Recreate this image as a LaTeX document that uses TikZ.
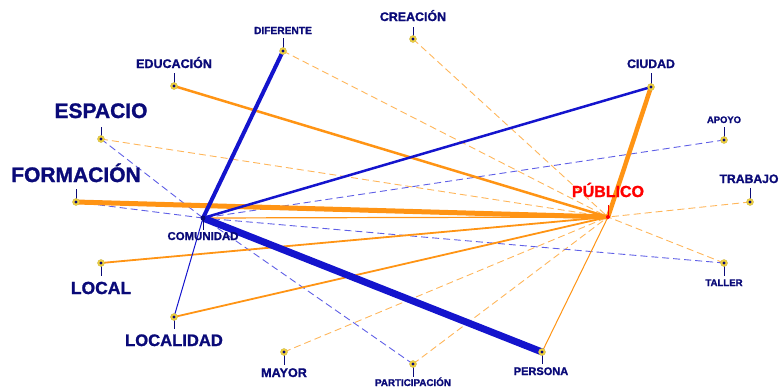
\documentclass[tikz,border=0pt]{standalone}
\usepackage{fontspec}
\setmainfont{Liberation Sans}[BoldFeatures={FakeBold=1.3}]
\newcommand\fsz[1]{\fontsize{#1}{#1}\selectfont\bfseries}
\definecolor{navy}{RGB}{10,10,120}
\definecolor{lblue}{RGB}{20,20,205}
\definecolor{dblue}{RGB}{95,95,230}
\definecolor{lorange}{RGB}{255,148,20}
\definecolor{dorange}{RGB}{255,182,90}
\definecolor{halo}{RGB}{240,210,60}
\tikzset{
  bl/.style={draw=lblue},
  bld/.style={draw=dblue,line width=0.9pt,dash pattern=on 7pt off 4pt},
  orl/.style={draw=lorange},
  ord/.style={draw=dorange,line width=0.9pt,dash pattern=on 7pt off 4pt},
  dotn/.style={circle,fill=halo,draw=halo!70!gray,line width=0.4pt,minimum size=7pt,inner sep=0pt,
     path picture={\fill[navy] (path picture bounding box.center) circle (1.7pt);}},
  lab/.style={text=navy,inner sep=0pt,text depth=0pt},
  tick/.style={draw=navy,line width=0.8pt},
}
\begin{document}
\begin{tikzpicture}[x=1pt,y=-1pt]
\useasboundingbox (0,0) rectangle (779,389);
% coordinates
\coordinate (EDU) at (174,86);
\coordinate (ESP) at (101,139);
\coordinate (FOR) at (76,202);
\coordinate (DIF) at (283,51);
\coordinate (CRE) at (413,39);
\coordinate (CIU) at (651,87);
\coordinate (APO) at (724,140);
\coordinate (TRA) at (750,202);
\coordinate (PUB) at (608,217);
\coordinate (COM) at (203,218);
\coordinate (LOC) at (101,263);
\coordinate (LCD) at (174,317);
\coordinate (MAY) at (284,352);
\coordinate (PAR) at (413,364);
\coordinate (PER) at (542,352);
\coordinate (TAL) at (724,263);
% dashed orange
\draw[ord] (DIF) -- (PUB);
\draw[ord] (CRE) -- (PUB);
\draw[ord] (ESP) -- (PUB);
\draw[ord] (TRA) -- (PUB);
\draw[ord] (TAL) -- (PUB);
\draw[ord] (MAY) -- (PUB);
\draw[ord] (PAR) -- (PUB);
% dashed blue
\draw[bld] (ESP) -- (COM);
\draw[bld] (FOR) -- (COM);
\draw[bld] (APO) -- (COM);
\draw[bld] (TAL) -- (COM);
\draw[bld] (PAR) -- (COM);
% solid orange
\draw[orl,line width=5pt] (FOR) -- (PUB);
\draw[orl,line width=4.5pt] (CIU) -- (PUB);
\draw[orl,line width=2.5pt] (EDU) -- (PUB);
\draw[orl,line width=1.8pt] (LOC) -- (PUB);
\draw[orl,line width=1.8pt] (LCD) -- (PUB);
\draw[orl,line width=1.2pt] (COM) -- (PUB);
\draw[orl,line width=1pt] (PER) -- (PUB);
% solid blue
\draw[bl,line width=4pt] (COM) -- (DIF);
\draw[bl,line width=7pt] (COM) -- (PER);
\draw[bl,line width=2.5pt] (COM) -- (CIU);
\draw[bl,line width=1pt] (COM) -- (LCD);
% ticks
\draw[tick] (EDU) -- ++(0,-13);
\draw[tick] (ESP) -- ++(0,-12);
\draw[tick] (FOR) -- ++(0,-13);
\draw[tick] (DIF) -- ++(0,-13);
\draw[tick] (CRE) -- ++(0,-12);
\draw[tick] (CIU) -- ++(0,-14);
\draw[tick] (APO) -- ++(0,-13);
\draw[tick] (TRA) -- ++(0,-14);
\draw[draw=red,line width=1pt] (PUB) -- ++(0,-12);
\draw[tick] (COM) -- ++(0,12);
\draw[tick] (LOC) -- ++(0,13);
\draw[tick] (LCD) -- ++(0,12);
\draw[tick] (MAY) -- ++(0,13);
\draw[tick] (PAR) -- ++(0,13);
\draw[tick] (PER) -- ++(0,12);
\draw[tick] (TAL) -- ++(0,13);
% dots
\foreach \n in {EDU,ESP,FOR,DIF,CRE,CIU,APO,TRA,LOC,LCD,MAY,PAR,PER,TAL}
  \node[dotn] (\n-dot) at (\n) {};
\node[circle,fill=navy,minimum size=5pt,inner sep=0pt] (COM-dot) at (COM) {};
\node[circle,fill=red,minimum size=4pt,inner sep=0pt] (PUB-dot) at (PUB) {};
% labels
\node[lab,anchor=base,font=\fsz{12.5}] (EDU-lab) at (174,68) {EDUCACIÓN};
\node[lab,anchor=base,font=\fsz{21}] (ESP-lab) at (101,118) {ESPACIO};
\node[lab,anchor=base,font=\fsz{21}] (FOR-lab) at (76,182) {FORMACIÓN};
\node[lab,anchor=base,font=\fsz{10.2}] (DIF-lab) at (283,34) {DIFERENTE};
\node[lab,anchor=base,font=\fsz{12.4}] (CRE-lab) at (413,21) {CREACIÓN};
\node[lab,anchor=base,font=\fsz{12.3}] (CIU-lab) at (651,68) {CIUDAD};
\node[lab,anchor=base,font=\fsz{9.4}] (APO-lab) at (724,123) {APOYO};
\node[lab,anchor=base,font=\fsz{12.2}] (TRA-lab) at (749,183) {TRABAJO};
\node[lab,anchor=base,font=\fsz{16},text=red] (PUB-lab) at (608,197) {PÚBLICO};
\node[lab,anchor=base,font=\fsz{11.4}] (COM-lab) at (203,240) {COMUNIDAD};
\node[lab,anchor=base,font=\fsz{17.5}] (LOC-lab) at (101,294) {LOCAL};
\node[lab,anchor=base,font=\fsz{16.6}] (LCD-lab) at (174,346) {LOCALIDAD};
\node[lab,anchor=base,font=\fsz{12.6}] (MAY-lab) at (284,377) {MAYOR};
\node[lab,anchor=base,font=\fsz{9.8}] (PAR-lab) at (413,386) {PARTICIPACIÓN};
\node[lab,anchor=base,font=\fsz{11}] (PER-lab) at (541,375) {PERSONA};
\node[lab,anchor=base,font=\fsz{9.6}] (TAL-lab) at (724,286) {TALLER};
\end{tikzpicture}
\end{document}
